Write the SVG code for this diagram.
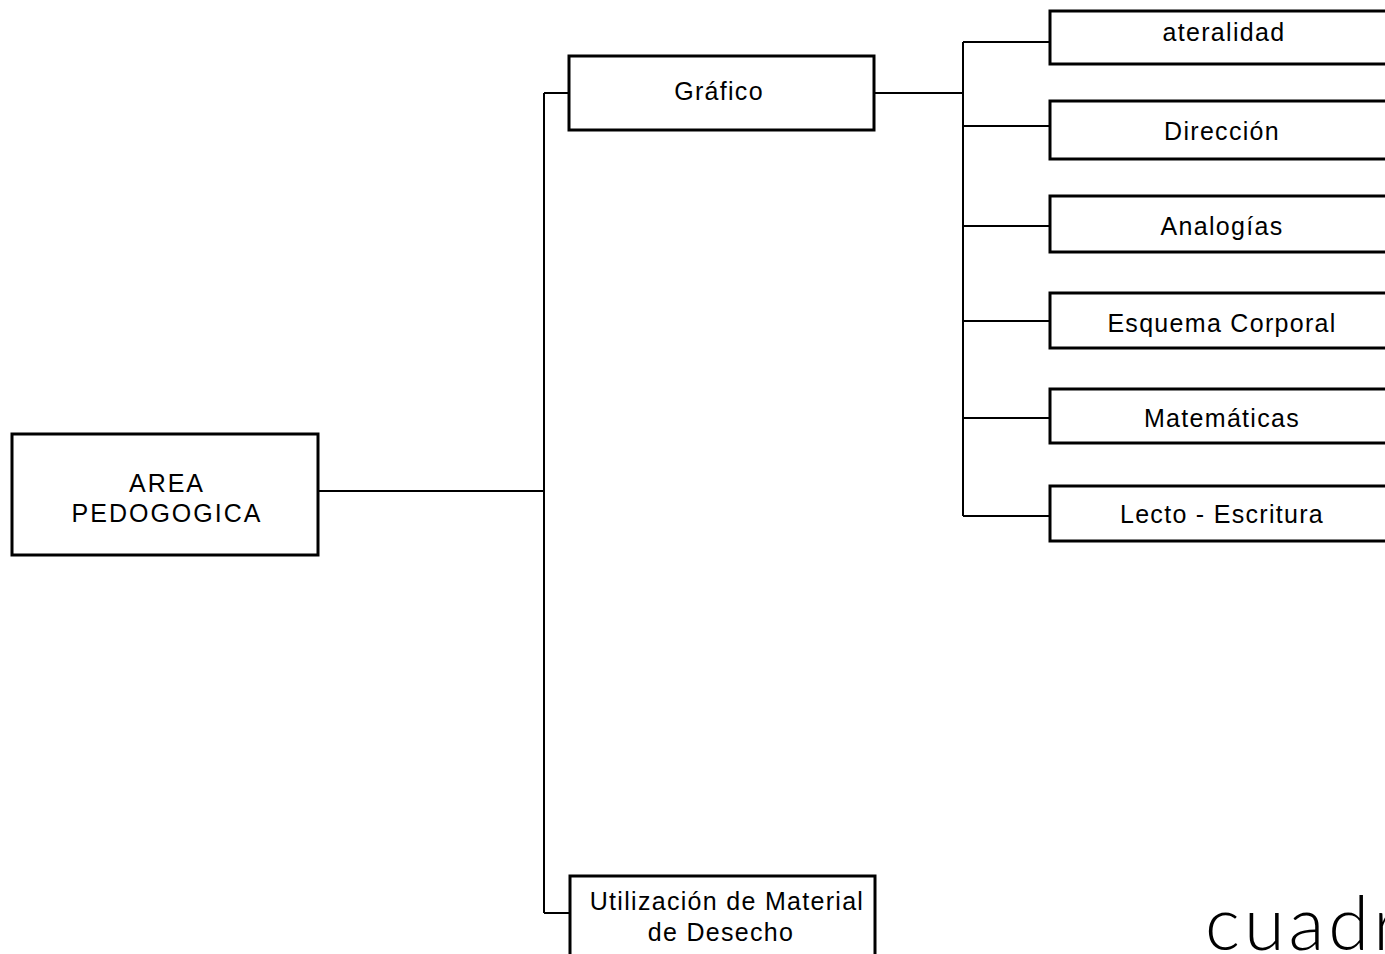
<svg xmlns="http://www.w3.org/2000/svg" width="1385" height="954" viewBox="0 0 1385 954">
<style>
.box{fill:#fff;stroke:#000;stroke-width:3}
.con{fill:none;stroke:#000;stroke-width:2}
.t{font-family:"Liberation Sans",Arial,sans-serif;font-size:25px;fill:#000;text-anchor:middle;letter-spacing:1.3px}
.big{font-family:Lato,"Open Sans","Liberation Sans",sans-serif;font-weight:300;font-size:74px;fill:#000;letter-spacing:4px}
</style>
<rect width="1385" height="954" fill="#fff"/>
<g id="connectors">
<path class="con" d="M319 491 H544"/>
<path class="con" d="M544 93 V913"/>
<path class="con" d="M544 93 H569"/>
<path class="con" d="M544 913 H570"/>
<path class="con" d="M874 93 H963"/>
<path class="con" d="M963 42 V516"/>
<path class="con" d="M963 42 H1050 M963 126 H1050 M963 226 H1050 M963 321 H1050 M963 418 H1050 M963 516 H1050"/>
</g>
<g id="area">
<rect class="box" x="12" y="434" width="306" height="121"/>
<text class="t" x="167" y="492" style="letter-spacing:2px">AREA</text>
<text class="t" x="167" y="522" style="letter-spacing:2px">PEDOGOGICA</text>
</g>
<g id="grafico">
<rect class="box" x="569" y="56" width="305" height="74"/>
<text class="t" x="719" y="100">Gráfico</text>
</g>
<g id="utilizacion">
<rect class="box" x="570" y="876" width="305" height="82"/>
<text class="t" x="727" y="910">Utilización de Material</text>
<text class="t" x="721" y="941">de Desecho</text>
</g>
<g id="lateralidad">
<rect class="box" x="1050" y="11" width="345" height="53"/>
<text class="t" x="1224" y="41">ateralidad</text>
</g>
<g id="direccion">
<rect class="box" x="1050" y="101" width="345" height="58"/>
<text class="t" x="1222" y="140">Dirección</text>
</g>
<g id="analogias">
<rect class="box" x="1050" y="196" width="345" height="56"/>
<text class="t" x="1222" y="235">Analogías</text>
</g>
<g id="esquema">
<rect class="box" x="1050" y="293" width="345" height="55"/>
<text class="t" x="1222" y="332">Esquema Corporal</text>
</g>
<g id="matematicas">
<rect class="box" x="1050" y="389" width="345" height="54"/>
<text class="t" x="1222" y="427">Matemáticas</text>
</g>
<g id="lecto">
<rect class="box" x="1050" y="486" width="345" height="55"/>
<text class="t" x="1222" y="523">Lecto - Escritura</text>
</g>
<text class="big" x="1205" y="950">cuadr</text>
</svg>
